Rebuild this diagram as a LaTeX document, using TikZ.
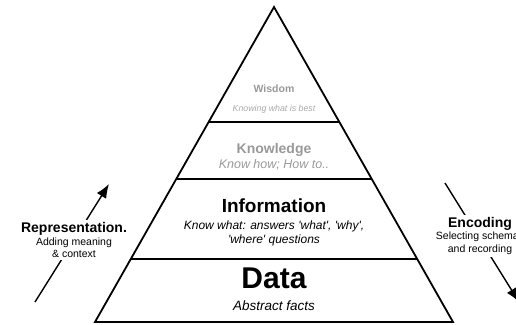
\documentclass[tikz,border=0pt]{standalone}
\usepackage{fontspec}
\setmainfont{Liberation Sans}
\usetikzlibrary{arrows.meta, calc}
\definecolor{faded}{gray}{0.6}
\definecolor{fadednote}{gray}{0.66}
\tikzstyle{layer} = [line width=1.8pt]
\tikzstyle{title} = [anchor=base, inner sep=0pt, font=\bfseries]
\tikzstyle{note} = [anchor=base, inner sep=0pt, font=\itshape]
\tikzstyle{sidelabel} = [fill=white, align=center, inner sep=2pt, font=\fontsize{10.5}{12.5}\selectfont]
\tikzstyle{arrow} = [line width=1.4pt, -{Latex[length=14pt,width=11pt]}]

\begin{document}
\begin{tikzpicture}[x=1pt,y=-1pt]
\useasboundingbox (0,0) rectangle (516,324);

			% pyramid outline
			\coordinate (apex) at (274,7);
			\coordinate (baseL) at (95,322);
			\coordinate (baseR) at (453,322);
			\draw [layer] (baseL) -- (apex) -- (baseR) -- cycle;

			% layer boundaries
			\coordinate (wisL) at ($(apex)!0.3651!(baseL)$);
			\coordinate (wisR) at ($(apex)!0.3651!(baseR)$);
			\coordinate (knoL) at ($(apex)!0.5460!(baseL)$);
			\coordinate (knoR) at ($(apex)!0.5460!(baseR)$);
			\coordinate (infL) at ($(apex)!0.8!(baseL)$);
			\coordinate (infR) at ($(apex)!0.8!(baseR)$);
			\draw [layer] (wisL) -- (wisR);
			\draw [layer] (knoL) -- (knoR);
			\draw [layer] (infL) -- (infR);

			\node (wisdom) [title, text=faded] at (274,92) {\fontsize{10.5}{12}\selectfont Wisdom};
			\node (wisdomNote) [note, text=fadednote] at (274,111) {\fontsize{8.8}{10}\selectfont Knowing what is best};
			\node (knowledge) [title, text=faded] at (274,153) {\fontsize{14}{16}\selectfont Knowledge};
			\node (knowledgeNote) [note, text=faded] at (274,168) {\fontsize{12.5}{14}\selectfont Know how; How to..};
			\node (information) [title] at (274,212) {\fontsize{19}{22}\selectfont Information};
			\node (informationNote) [note, anchor=center, align=center, font=\itshape\fontsize{12}{14}\selectfont] at (274,233)
				{Know what: answers \textquotesingle what\textquotesingle, \textquotesingle why\textquotesingle,\\\textquotesingle where\textquotesingle\ questions};
			\node (data) [title] at (274,288) {\fontsize{30}{34}\selectfont Data};
			\node (dataNote) [note] at (274,310) {\fontsize{13.5}{16}\selectfont Abstract facts};

			% side arrows
			\coordinate (repFrom) at (35,302);
			\coordinate (repTo) at (109,184);
			\coordinate (encFrom) at (445,183);
			\coordinate (encTo) at (519,302);
			\draw [arrow] (repFrom) -- (repTo);
			\draw [arrow] (encFrom) -- (encTo);

			\node (representation) [sidelabel] at (74,240)
				{{\bfseries\fontsize{14}{16}\selectfont Representation.}\\Adding meaning\\\& context};
			\node (encoding) [sidelabel] at (480,236)
				{{\bfseries\fontsize{14}{16}\selectfont Encoding}\\Selecting schemas\\and recording};

\end{tikzpicture}
\end{document}
